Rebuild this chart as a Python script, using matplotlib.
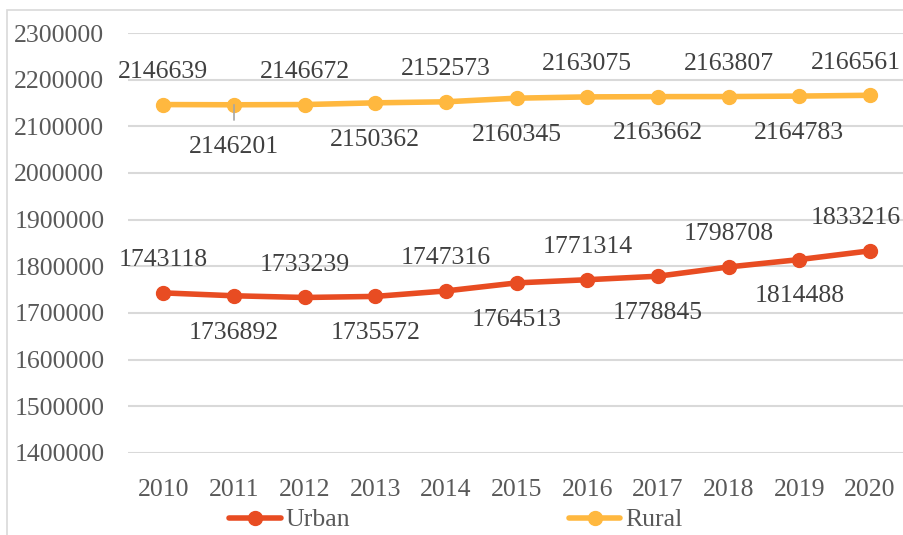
import matplotlib
matplotlib.use("Agg")
import matplotlib.pyplot as plt
from matplotlib.patches import Rectangle

years = ["2010", "2011", "2012", "2013", "2014", "2015", "2016", "2017", "2018", "2019", "2020"]
urban = [1743118, 1736892, 1733239, 1735572, 1747316, 1764513, 1771314, 1778845, 1798708, 1814488, 1833216]
rural = [2146639, 2146201, 2146672, 2150362, 2152573, 2160345, 2163075, 2163662, 2163807, 2164783, 2166561]
yticks = [1400000, 1500000, 1600000, 1700000, 1800000, 1900000, 2000000, 2100000, 2200000, 2300000]

plt.rcParams['font.family'] = ['Liberation Serif', 'DejaVu Serif']
W, H = 904, 535
fig = plt.figure(figsize=(W/100, H/100), dpi=100)
fig.patches.append(Rectangle((7/W, -0.1), 1.2, 1 - 10/H + 0.1, transform=fig.transFigure,
                             fill=False, edgecolor='#D9D9D9', linewidth=1.2))
ax = fig.add_axes([128/W, 1 - 453/H, (905.4 - 128)/W, (453 - 33)/H])

urban_c = '#E84C22'
rural_c = '#FFB83F'
x = list(range(len(years)))
ax.plot(x, urban, color=urban_c, lw=4, marker='o', ms=10, label='Urban', solid_capstyle='round')
ax.plot(x, rural, color=rural_c, lw=4, marker='o', ms=10, label='Rural', solid_capstyle='round')

ax.set_xlim(-0.5, len(years) - 0.5)
ax.set_ylim(1400000, 2300000)
ax.set_yticks(yticks)
ax.set_yticklabels([str(v) for v in yticks])
ax.set_xticks(x)
ax.set_xticklabels(years)
ax.grid(axis='y', color='#D9D9D9', lw=1.5)
ax.set_axisbelow(True)
for s in ax.spines.values():
    s.set_visible(False)
ax.tick_params(axis='both', length=0, labelsize=18.5, colors='#595959')
ax.tick_params(axis='y', pad=17)
ax.tick_params(axis='x', pad=19)

tc = '#404040'
n = len(years)
for series in (urban, rural):
    for i, v in enumerate(series):
        if i % 2 == 0:
            off = 23.5
        else:
            off = -26.5
        ha = 'center'
        dx = 0
        if i == n - 1:
            ha = 'right'
            dx = 22
        if series is rural and i == 1:
            off = -30.5
            ax.annotate('', xy=(i, v), xytext=(0, -11), textcoords='offset points',
                        arrowprops=dict(arrowstyle='-', color='#A6A6A6', lw=1.2,
                                        shrinkA=0, shrinkB=0))
        ax.annotate(str(v), xy=(i, v), xytext=(dx, off), textcoords='offset points',
                    ha=ha, va='center', fontsize=18.5, color=tc)

leg = fig.legend(loc='center', bbox_to_anchor=(456/W, 1 - 520/H), ncol=2, frameon=False,
                 fontsize=18.5, handlelength=2.0, columnspacing=8.5, handletextpad=0.2,
                 labelcolor='#595959')
fig.savefig('out.png', dpi=100)
